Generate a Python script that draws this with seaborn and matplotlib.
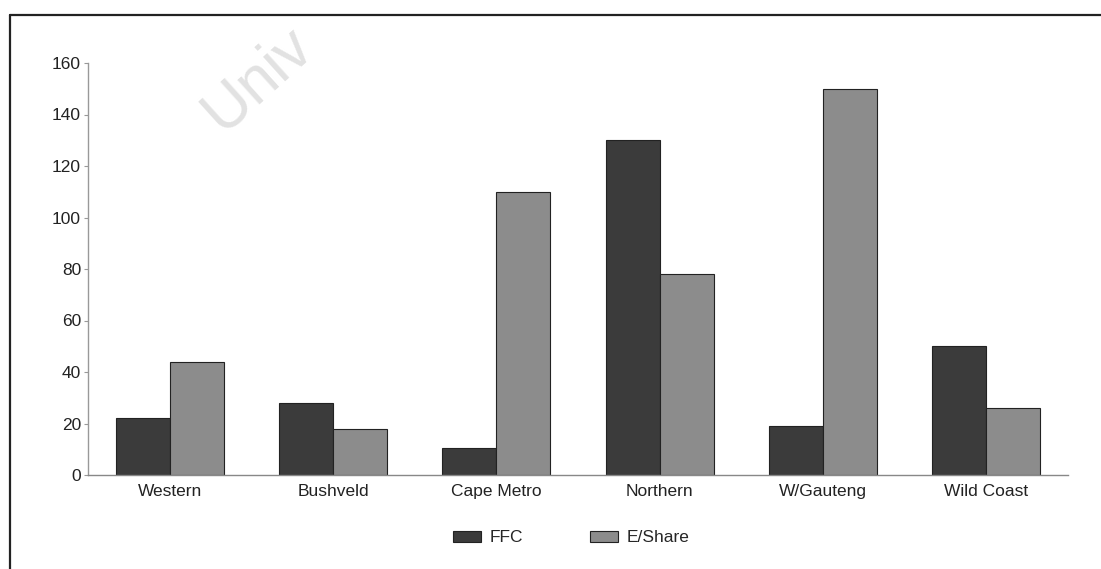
import pandas as pd
import matplotlib.pyplot as plt
import seaborn as sns
from matplotlib.lines import Line2D

regions = ['Western', 'Bushveld', 'Cape Metro', 'Northern', 'W/Gauteng', 'Wild Coast']
ffc = [22, 28, 10.5, 130, 19, 50]
eshare = [44, 18, 110, 78, 150, 26]
series = ['FFC', 'E/Share']
colors = ['#3b3b3b', '#8c8c8c']
yticks = [0, 20, 40, 60, 80, 100, 120, 140, 160]

df = pd.DataFrame({
    'Region': regions * 2,
    'Value': ffc + eshare,
    'Series': ['FFC'] * len(regions) + ['E/Share'] * len(regions),
})

sns.set_style("white")
plt.rcParams['font.family'] = ['Liberation Sans', 'DejaVu Sans']

fig = plt.figure(figsize=(11.01, 5.69), dpi=100)

# faint watermark behind everything
fig.text(222 / 1101, 1 - 134 / 569, 'Univ', rotation=42, fontsize=45,
         color='#e2e2e2', ha='left', va='baseline', rotation_mode='anchor', zorder=0)

ax = fig.add_axes([88 / 1101, 94 / 569, (1068 - 88) / 1101, (475 - 63) / 569])
ax.patch.set_alpha(0)

sns.barplot(data=df, x='Region', y='Value', hue='Series', hue_order=series,
            palette=colors, width=0.66, saturation=1, edgecolor='#222222',
            linewidth=0.8, ax=ax)

ax.set_ylim(0, 160)
ax.set_xlim(-0.5, 5.5)
ax.set_yticks(yticks)
ax.set_xlabel('')
ax.set_ylabel('')
ax.tick_params(axis='both', labelsize=12.5, colors='#222222')
ax.tick_params(axis='y', left=True, length=3, width=0.8, color='#999999', pad=2)
ax.tick_params(axis='x', bottom=False, pad=3)
for side in ['top', 'right']:
    ax.spines[side].set_visible(False)
ax.spines['left'].set_color('#999999')
ax.spines['left'].set_linewidth(1.0)
ax.spines['bottom'].set_color('#888888')
ax.spines['bottom'].set_linewidth(1.0)

handles, labels = ax.get_legend_handles_labels()
ax.legend(handles, labels, loc='center', bbox_to_anchor=(571 / 1101, 31 / 569),
          bbox_transform=fig.transFigure, ncol=2, frameon=False, fontsize=12.5,
          handlelength=1.6, handleheight=0.6, columnspacing=3.85, handletextpad=0.5)

# outer frame of the scanned figure
fig.add_artist(Line2D([10 / 1101, 10 / 1101], [0, 1 - 15 / 569], color='#222222', lw=1.6,
                      transform=fig.transFigure))
fig.add_artist(Line2D([10 / 1101, 1], [1 - 15 / 569, 1 - 15 / 569], color='#222222', lw=1.6,
                      transform=fig.transFigure))

fig.savefig('out.png', dpi=100)
